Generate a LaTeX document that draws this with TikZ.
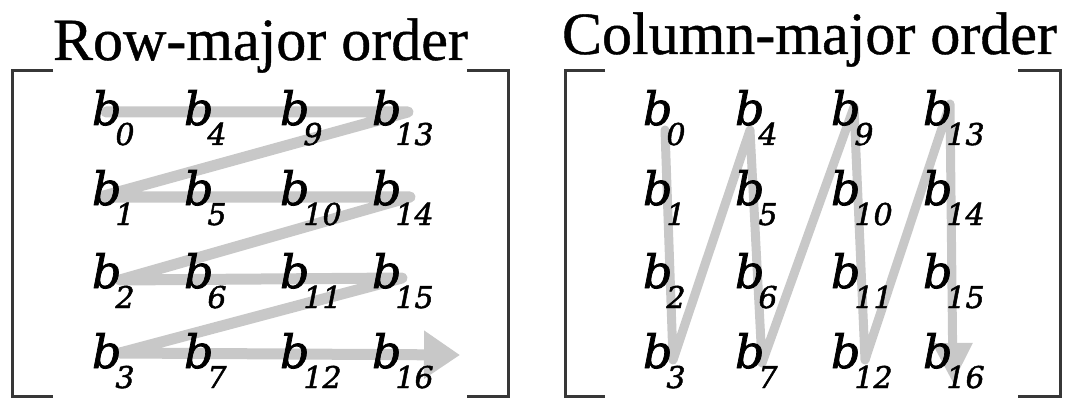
\documentclass[tikz,border=0pt]{standalone}
\usepackage{fontspec}
\setmainfont{Liberation Serif}
\newfontfamily\ttlfont{Liberation Serif}[FakeBold=0.7]
\newfontfamily\elemfont{DejaVu Serif}[ItalicFeatures={FakeBold=1.6}]
\usetikzlibrary{arrows.meta}
\definecolor{pathgray}{RGB}{200,200,200}
\definecolor{brk}{RGB}{55,55,55}
\pgfdeclarelayer{bg}
\pgfsetlayers{bg,main}
\newcommand{\bsub}[1]{\elemfont\itshape\fontsize{46}{46}\selectfont b\kern-6pt\raisebox{-20pt}{\fontsize{30}{30}\selectfont #1}}
\begin{document}
\begin{tikzpicture}[x=1pt,y=-1pt,
  elem/.style={anchor=base west, inner sep=0pt, outer sep=0pt},
  ttl/.style={anchor=base west, inner sep=0pt, outer sep=0pt, font=\ttlfont\fontsize{60}{60}\selectfont},
  brkline/.style={line width=3pt, draw=brk},
  rowflow/.style={draw=pathgray, line width=11pt, line join=round, line cap=round,
    -{Triangle[length=36pt,width=46pt]}},
  colflow/.style={draw=pathgray, line width=9pt, line join=round, line cap=round,
    -{Triangle[length=40pt,width=38pt]}}]
\useasboundingbox (0,0) rectangle (1078,398);

% titles
\node[ttl] (rowtitle) at (53,60) {Row-major order};
\node[ttl] (coltitle) at (562,54) {Column-major order};

% brackets
\draw[brkline] (53,71) -- (12,71) -- (12,396.5) -- (53,396.5);
\draw[brkline] (467,71) -- (508,71) -- (508,396.5) -- (467,396.5);
\draw[brkline] (605,71) -- (565,71) -- (565,396.5) -- (605,396.5);
\draw[brkline] (1018,71) -- (1060,71) -- (1060,396.5) -- (1018,396.5);

% elements
\foreach \lab/\x/\y in {0/92/125, 4/184/125, 9/280/125, 13/372/125,
                        1/92/205, 5/184/205, 10/280/205, 14/372/205,
                        2/92/288, 6/184/288, 11/280/288, 15/372/288,
                        3/92/368, 7/184/368, 12/280/368, 16/372/368} {
  \node[elem] (L\lab) at (\x,\y) {\bsub{\lab}};
  \node[elem] (R\lab) at (\x+551,\y) {\bsub{\lab}};
}

\begin{pgfonlayer}{bg}
% row-major flow
\draw[rowflow] ([shift={(14,-13)}]L0.base west)
  -- ([shift={(36,-13)}]L13.base west)
  -- ([shift={(8,-8)}]L1.base west)
  -- ([shift={(38,-8)}]L14.base west)
  -- ([shift={(28,-8)}]L2.base west)
  -- ([shift={(30,-10)}]L15.base west)
  -- ([shift={(28,-15)}]L3.base west)
  -- ([shift={(88,-13)}]L16.base west);
% column-major flow
\draw[colflow] ([shift={(22,5)}]R0.base west)
  -- ([shift={(30,-8)}]R3.base west)
  -- ([shift={(15,5)}]R4.base west)
  -- ([shift={(27,-5)}]R7.base west)
  -- ([shift={(23,-18)}]R9.base west)
  -- ([shift={(34,-8)}]R12.base west)
  -- ([shift={(27,-21)}]R13.base west)
  -- ([shift={(30,15)}]R16.base west);
\end{pgfonlayer}
\end{tikzpicture}
\end{document}
